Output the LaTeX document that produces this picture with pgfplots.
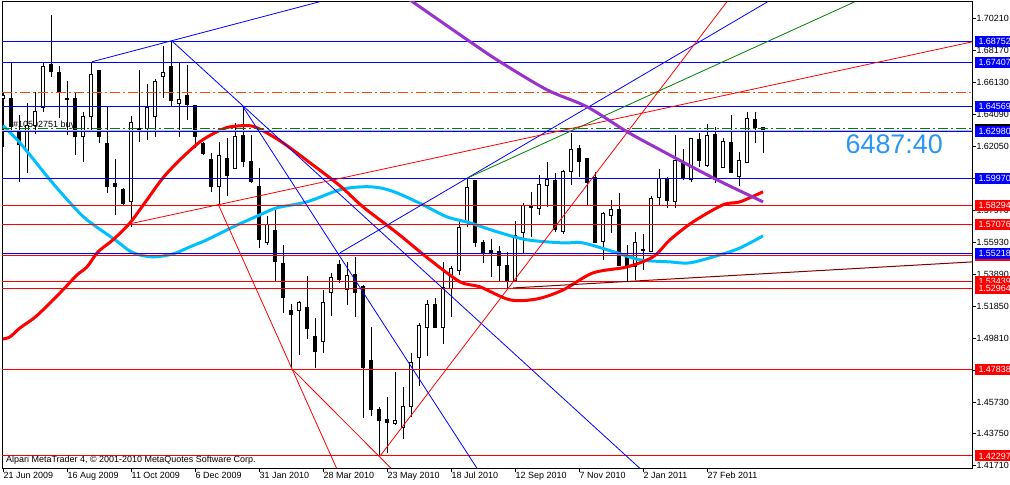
\documentclass[border=0pt]{standalone}
\usepackage{fontspec}
\setmainfont{Liberation Sans}
\usepackage{pgfplots}
\usepackage{pgfplotstable}
\pgfplotsset{compat=1.18}
\definecolor{mtblue}{RGB}{0,0,255}
\definecolor{mtred}{RGB}{255,0,0}
\definecolor{mtorange}{RGB}{255,69,0}
\definecolor{mtgreen}{RGB}{0,128,0}
\definecolor{mtsilver}{RGB}{192,192,192}
\definecolor{mtcyan}{RGB}{0,191,255}
\definecolor{mtpurple}{RGB}{153,50,204}
\definecolor{mtmaroon}{RGB}{128,0,0}
\definecolor{mttext}{RGB}{40,150,245}
\newcommand\lab{\fontsize{9}{10}\selectfont}

\pgfplotstableread{
i O H L C
0 1.6507 1.6545 1.6201 1.6526
1 1.6507 1.6743 1.6309 1.6328
2 1.6290 1.6405 1.5977 1.6214
3 1.6175 1.6482 1.6035 1.6335
4 1.6335 1.6552 1.6284 1.6424
5 1.6450 1.6743 1.6424 1.6711
6 1.6724 1.7043 1.6647 1.6679
7 1.6673 1.6718 1.6386 1.6545
8 1.6507 1.6622 1.6277 1.6504
9 1.6507 1.6545 1.6150 1.6265
10 1.6265 1.6424 1.6105 1.6392
11 1.6392 1.6743 1.6297 1.6660
12 1.6686 1.6686 1.6226 1.6265
13 1.6220 1.6462 1.5907 1.5946
14 1.5965 1.6124 1.5767 1.5946
15 1.5927 1.5939 1.5824 1.5837
16 1.5850 1.6399 1.5690 1.6354
17 1.6316 1.6692 1.6233 1.6313
18 1.6316 1.6603 1.6245 1.6450
19 1.6392 1.6635 1.6265 1.6616
20 1.6647 1.6845 1.6513 1.6673
21 1.6711 1.6871 1.6456 1.6494
22 1.6475 1.6743 1.6265 1.6501
23 1.6526 1.6724 1.6373 1.6469
24 1.6462 1.6462 1.6194 1.6265
25 1.6220 1.6233 1.6150 1.6156
26 1.6118 1.6163 1.5914 1.5946
27 1.5946 1.6233 1.5837 1.6143
28 1.6124 1.6258 1.5888 1.6016
29 1.6060 1.6354 1.6060 1.6265
30 1.6271 1.6450 1.6073 1.6105
31 1.6105 1.6277 1.5971 1.5977
32 1.5946 1.6067 1.5556 1.5608
33 1.5588 1.5761 1.5576 1.5703
34 1.5665 1.5799 1.5346 1.5467
35 1.5454 1.5576 1.5142 1.5237
36 1.5155 1.5199 1.4791 1.5129
37 1.5155 1.5218 1.4874 1.5206
38 1.5174 1.5378 1.4976 1.5040
39 1.4989 1.5110 1.4791 1.4893
40 1.4957 1.5288 1.4887 1.5206
41 1.5269 1.5397 1.5123 1.5365
42 1.5448 1.5480 1.5333 1.5352
43 1.5288 1.5467 1.5193 1.5378
44 1.5384 1.5499 1.5116 1.5269
45 1.5308 1.5320 1.4472 1.4797
46 1.4836 1.5052 1.4485 1.4523
47 1.4523 1.4542 1.42297 1.4453
48 1.4465 1.4606 1.4249 1.4446
49 1.4434 1.4765 1.4427 1.4453
50 1.4414 1.4670 1.4338 1.4548
51 1.4548 1.4887 1.4478 1.4823
52 1.4855 1.5078 1.4676 1.5059
53 1.5046 1.5225 1.4867 1.5193
54 1.5193 1.5237 1.5046 1.5052
55 1.5052 1.5467 1.4944 1.5301
56 1.5295 1.5442 1.5116 1.5422
57 1.5410 1.5722 1.5384 1.5684
58 1.5722 1.6003 1.5690 1.5939
59 1.5984 1.5984 1.5563 1.5588
60 1.5588 1.5608 1.5461 1.5525
61 1.5537 1.5614 1.5371 1.5525
62 1.5531 1.5569 1.5340 1.5442
63 1.5442 1.5531 1.5301 1.5346
64 1.5346 1.5729 1.5340 1.5633
65 1.5652 1.5844 1.5525 1.5824
66 1.5824 1.5914 1.5627 1.5812
67 1.5805 1.6022 1.5767 1.5958
68 1.5952 1.6105 1.5818 1.5990
69 1.5984 1.6035 1.5659 1.5671
70 1.5659 1.6054 1.5646 1.6041
71 1.6041 1.6290 1.5958 1.6182
72 1.6188 1.6214 1.6009 1.6105
73 1.6124 1.6124 1.5831 1.5971
74 1.6003 1.6041 1.5588 1.5588
75 1.5595 1.5786 1.5480 1.5773
76 1.5761 1.5863 1.5652 1.5799
77 1.5799 1.5907 1.5442 1.5442
78 1.5499 1.5576 1.5340 1.5435
79 1.5435 1.5659 1.5352 1.5588
80 1.5544 1.5646 1.5416 1.5541
81 1.5531 1.5888 1.5531 1.5869
82 1.5875 1.6060 1.5831 1.5997
83 1.5997 1.6009 1.5812 1.5856
84 1.5850 1.6277 1.5812 1.6112
85 1.6099 1.6188 1.5990 1.5997
86 1.5990 1.6258 1.5977 1.6252
87 1.6245 1.6290 1.6073 1.6112
88 1.6080 1.6348 1.6073 1.6271
89 1.6277 1.6328 1.5971 1.5990
90 1.6067 1.6258 1.6067 1.6233
91 1.6226 1.6405 1.6035 1.6035
92 1.6009 1.6169 1.5952 1.6112
93 1.6099 1.6424 1.6099 1.6379
94 1.6373 1.6424 1.6226 1.6322
95 1.6322 1.6328 1.6163 1.6303
}\candles

\pgfplotsset{
  mtaxis/.style={
    at={(2bp,16.7bp)}, anchor=south west,
    width=970.3bp, height=466.6bp, scale only axis,
    xmin=-0.125, xmax=121.1625, ymin=1.41512, ymax=1.71259,
  },
  hiddenaxis/.style={mtaxis, hide axis},
}

\begin{document}
\begin{tikzpicture}
\useasboundingbox (0,0) rectangle (1010bp,485bp);
% axis 1: frame, ticks, wicks
\begin{axis}[mtaxis,
  axis line style={black, line width=1bp},
  tick style={black, line width=1bp},
  tick align=outside, major tick length=4bp,
  xtick pos=left, ytick pos=right,
  xtick={0,8,16,24,32,40,48,56,64,72,80,88},
  xticklabels={21 Jun 2009,16 Aug 2009,11 Oct 2009,6 Dec 2009,31 Jan 2010,28 Mar 2010,23 May 2010,18 Jul 2010,12 Sep 2010,7 Nov 2010,2 Jan 2011,27 Feb 2011},
  ytick={1.70210,1.68170,1.66130,1.64090,1.62050,1.60010,1.57970,1.55930,1.53890,1.51850,1.49810,1.47770,1.45730,1.43750,1.41710},
  yticklabels={1.70210,1.68170,1.66130,1.64090,1.62050,1.60010,1.57970,1.55930,1.53890,1.51850,1.49810,1.47770,1.45730,1.43750,1.41710},
  xticklabel style={font=\lab, anchor=north west, inner sep=0pt, xshift=0.5bp},
  yticklabel style={font=\lab, anchor=west, inner sep=0pt},
  /pgf/number format/assume math mode=true,
]
\node[font=\lab, anchor=base west, inner sep=0pt] at (axis cs:1.25,1.6322) {\#10502751 buy};
\addplot[draw=none, mark=none, error bars/.cd, y dir=plus, y explicit, error mark=none,
  error bar style={draw=black, solid, line width=1bp}]
  table[x=i, y=L, y error plus expr={\thisrow{H}-\thisrow{L}}] {\candles};
\end{axis}
% axis 2: candle bodies
\begin{axis}[hiddenaxis, ybar stacked, bar width=3.6bp]
\addplot[draw=none, fill=none] table[x=i, y expr={min(\thisrow{O},\thisrow{C})}] {\candles};
\addplot[draw=black, fill=white, line width=1bp] table[x=i, y expr={max(\thisrow{C}-\thisrow{O},0)}] {\candles};
\addplot[draw=black, fill=black, line width=1bp] table[x=i, y expr={max(\thisrow{O}-\thisrow{C},0)}] {\candles};
\end{axis}
% axis 3: lines
\begin{axis}[hiddenaxis]
% moving averages
\addplot[mtcyan, line width=3bp, smooth] coordinates {
(0,1.6335) (2.125,1.6226) (5.875,1.5990) (8.375,1.5844) (10.5,1.5735) (14,1.5608)
(16.25,1.5525) (18.75,1.5499) (21.25,1.5518) (23.375,1.5563) (25.5,1.5608)
(28.75,1.5690) (32.125,1.5767) (34.25,1.5812) (38,1.5850) (42.125,1.5927)
(45,1.5946) (47.125,1.5939) (49.25,1.5907) (52.5,1.5831) (55.5,1.5754)
(58.375,1.5716) (61.75,1.5659) (65.5,1.5608) (70,1.5588) (72.5,1.5588)
(76.75,1.5525) (79.625,1.5480) (83.375,1.5467) (85.875,1.5461) (89.625,1.5512)
(92.125,1.5556) (95,1.5633)};
\addplot[mtred, line width=3bp, smooth] coordinates {
(0,1.4976) (0.875,1.4989) (2.125,1.5046) (3.75,1.5104) (5,1.5161) (7.5,1.5289)
(9.25,1.5384) (10.5,1.5435) (11.875,1.5531) (13.75,1.5608) (15.875,1.5716)
(18,1.5863) (20,1.6003) (22.125,1.6118) (24.625,1.6233) (26.75,1.6297)
(28.375,1.6328) (30.875,1.6335) (32.5,1.6303) (35,1.6226) (38.375,1.6099)
(42.125,1.5952) (45,1.5818) (49.25,1.5652) (53.375,1.5480) (57.125,1.5340)
(59.625,1.5308) (63.375,1.5225) (66.75,1.5231) (70,1.5288) (73.75,1.5397)
(78,1.5435) (81.25,1.5499) (83.375,1.5608) (86.25,1.5722) (90,1.5831)
(92.125,1.5850) (95,1.5914)};
% horizontal levels
\addplot[mtorange, line width=1bp, dash pattern=on 10bp off 3bp on 2bp off 3bp] coordinates {(-0.125,1.6550) (121.1625,1.6550)};
\addplot[mtgreen, line width=1bp, dash pattern=on 10bp off 3bp on 2bp off 3bp] coordinates {(-0.125,1.6316) (121.1625,1.6316)};
\addplot[mtsilver, line width=1bp] coordinates {(-0.125,1.6303) (121.1625,1.6303)};
\addplot[mtblue, line width=1bp] coordinates {(-0.125,1.68752) (121.1625,1.68752)};
\addplot[mtblue, line width=1bp] coordinates {(-0.125,1.67407) (121.1625,1.67407)};
\addplot[mtblue, line width=1bp] coordinates {(-0.125,1.64569) (121.1625,1.64569)};
\addplot[mtblue, line width=1bp] coordinates {(-0.125,1.62980) (121.1625,1.62980)};
\addplot[mtblue, line width=1bp] coordinates {(-0.125,1.59970) (121.1625,1.59970)};
\addplot[mtred, line width=1bp] coordinates {(-0.125,1.58294) (121.1625,1.58294)};
\addplot[mtred, line width=1bp] coordinates {(-0.125,1.57076) (121.1625,1.57076)};
\addplot[mtred, line width=1bp] coordinates {(-0.125,1.5510) (121.1625,1.5510)};
\addplot[mtblue, line width=1bp] coordinates {(-0.125,1.55218) (121.1625,1.55218)};
\addplot[mtred, line width=1bp] coordinates {(-0.125,1.53439) (121.1625,1.53439)};
\addplot[mtred, line width=1bp] coordinates {(-0.125,1.52964) (121.1625,1.52964)};
\addplot[mtred, line width=1bp] coordinates {(-0.125,1.47838) (121.1625,1.47838)};
\addplot[mtred, line width=1bp] coordinates {(-0.125,1.42297) (121.1625,1.42297)};
% trend lines
\addplot[mtblue, line width=0.8bp] coordinates {(11.125,1.6743) (39.6,1.7126)};
\addplot[mtblue, line width=0.8bp] coordinates {(21.125,1.6875) (79.6,1.41512)};
\addplot[mtblue, line width=0.8bp] coordinates {(30,1.6456) (59.25,1.41512)};
\addplot[mtblue, line width=0.8bp] coordinates {(42.125,1.5525) (95.6,1.7126)};
\addplot[mtgreen, line width=0.8bp] coordinates {(58.125,1.6003) (106.5,1.7126)};
\addplot[mtred, line width=0.8bp] coordinates {(15.875,1.5710) (121.1625,1.6870)};
\addplot[mtred, line width=0.8bp] coordinates {(26.875,1.5837) (41.7,1.41512)};
\addplot[mtred, line width=0.8bp] coordinates {(36.125,1.4785) (48.5,1.41512)};
\addplot[mtred, line width=0.8bp] coordinates {(47.125,1.4229) (90.5,1.7126)};
\addplot[mtmaroon, line width=1bp] coordinates {(63.75,1.5301) (121.1625,1.5467)};
\addplot[mtpurple, line width=3bp, smooth] coordinates {
(50.5,1.7150) (58.375,1.6871) (62.125,1.6743) (68,1.6564) (73,1.6456) (78,1.6297)
(82.125,1.6182) (88.75,1.6003) (95,1.5850)};
\end{axis}
% axis 4: labels
\begin{axis}[hiddenaxis, clip=false]
\tikzset{pl/.style={anchor=west, font=\lab, text=white, inner xsep=4bp, inner ysep=0pt,
  minimum height=11bp, text width=34bp, align=left, xshift=2bp}}
\node[pl, fill=mtblue] at (axis cs:121.1625,1.68752) {1.68752};
\node[pl, fill=mtblue] at (axis cs:121.1625,1.67407) {1.67407};
\node[pl, fill=mtblue] at (axis cs:121.1625,1.64569) {1.64569};
\node[pl, fill=black] at (axis cs:121.1625,1.6312) {\phantom{1.63030}};
\node[pl, fill=mtblue] at (axis cs:121.1625,1.62980) {1.62980};
\node[pl, fill=mtblue] at (axis cs:121.1625,1.59970) {1.59970};
\node[pl, fill=mtred] at (axis cs:121.1625,1.58294) {1.58294};
\node[pl, fill=mtred] at (axis cs:121.1625,1.57076) {1.57076};
\node[pl, fill=mtred] at (axis cs:121.1625,1.5510) {\phantom{1.55100}};
\node[pl, fill=mtblue] at (axis cs:121.1625,1.55218) {1.55218};
\node[pl, fill=mtred] at (axis cs:121.1625,1.53439) {1.53439};
\node[pl, fill=mtred] at (axis cs:121.1625,1.52964) {1.52964};
\node[pl, fill=mtred] at (axis cs:121.1625,1.47838) {1.47838};
\node[pl, fill=mtred] at (axis cs:121.1625,1.42297) {1.42297};
\node[font=\fontsize{27}{30}\selectfont, text=mttext, inner sep=0pt] at (axis cs:111.4,1.6220) {6487:40};
\node[font=\lab, anchor=west, inner sep=0pt] at (axis cs:0.375,1.4204) {Alpari MetaTrader 4, © 2001-2010 MetaQuotes Software Corp.};
\end{axis}
\end{tikzpicture}
\end{document}
